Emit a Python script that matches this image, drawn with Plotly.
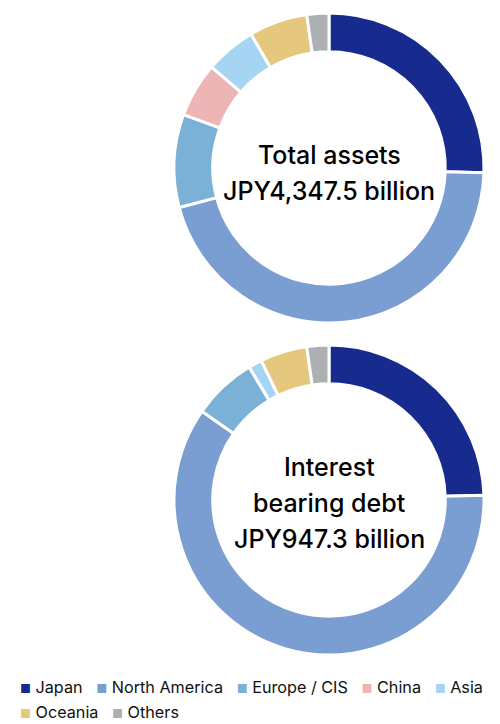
import plotly.graph_objects as go

# Regional breakdown (% of total)
regions = ["Japan", "North America", "Europe / CIS", "China", "Asia", "Oceania", "Others"]
total_assets_share = [25.5, 45.4, 9.7, 5.7, 5.3, 6.1, 2.3]
debt_share = [24.5, 60.2, 6.7, 0.0, 1.4, 4.9, 2.3]

total_assets_lines = ["Total assets", "JPY4,347.5 billion"]
debt_lines = ["Interest", "bearing debt", "JPY947.3 billion"]

REGION_COLORS = ["#172B8E", "#7B9ED2", "#7BB1D6", "#EDB5B6", "#A6D5F3", "#E5C87D", "#ACB0B2"]

FONT = "Inter, Roboto, sans-serif"
W, H = 500, 724

fig = go.Figure()

common = dict(
    labels=regions,
    hole=0.75,
    sort=False,
    direction="clockwise",
    rotation=0,
    textinfo="none",
    showlegend=False,
    marker=dict(colors=REGION_COLORS, line=dict(color="white", width=3)),
    hovertemplate="<b>%{label}</b><br>%{value:.1f}%<extra></extra>",
)

fig.add_trace(go.Pie(
    values=total_assets_share,
    domain=dict(x=[174 / W, 484 / W], y=[1 - 323 / H, 1 - 13 / H]),
    name="Total assets",
    **common,
))
fig.add_trace(go.Pie(
    values=debt_share,
    domain=dict(x=[174 / W, 484 / W], y=[1 - 655 / H, 1 - 345 / H]),
    name="Interest bearing debt",
    **common,
))

# Centre labels, one annotation per line to get the wider line spacing
def centre_text(lines, y_first, step=36):
    for i, line in enumerate(lines):
        fig.add_annotation(
            x=329 / W, y=1 - (y_first + i * step) / H, xref="paper", yref="paper",
            xanchor="center", yanchor="middle",
            text=line, showarrow=False,
            font=dict(size=25, color="#000000", family=FONT, weight=500),
        )

centre_text(total_assets_lines, 155)
centre_text(debt_lines, 467)

# Legend drawn as text rows (coloured squares + labels)
def legend_row(items, y):
    parts = [
        f"<span style='color:{REGION_COLORS[regions.index(r)]};font-size:12px'>■</span> {r}"
        for r in items
    ]
    fig.add_annotation(
        x=18 / W, y=1 - y / H, xref="paper", yref="paper",
        xanchor="left", yanchor="middle",
        text="   ".join(parts), showarrow=False,
        font=dict(size=16.2, color="#111111", family=FONT),
    )

legend_row(regions[:5], 687)
legend_row(regions[5:], 712)

fig.update_layout(
    width=W,
    height=H,
    margin=dict(l=0, r=0, t=0, b=0),
    paper_bgcolor="white",
    plot_bgcolor="white",
    font=dict(family=FONT, color="#111111"),
    showlegend=False,
)

# drop the default body margin so the figure fills the window exactly
fig.write_html(
    "out.html",
    config={"displayModeBar": False},
    post_script="document.body.style.margin='0';",
)
